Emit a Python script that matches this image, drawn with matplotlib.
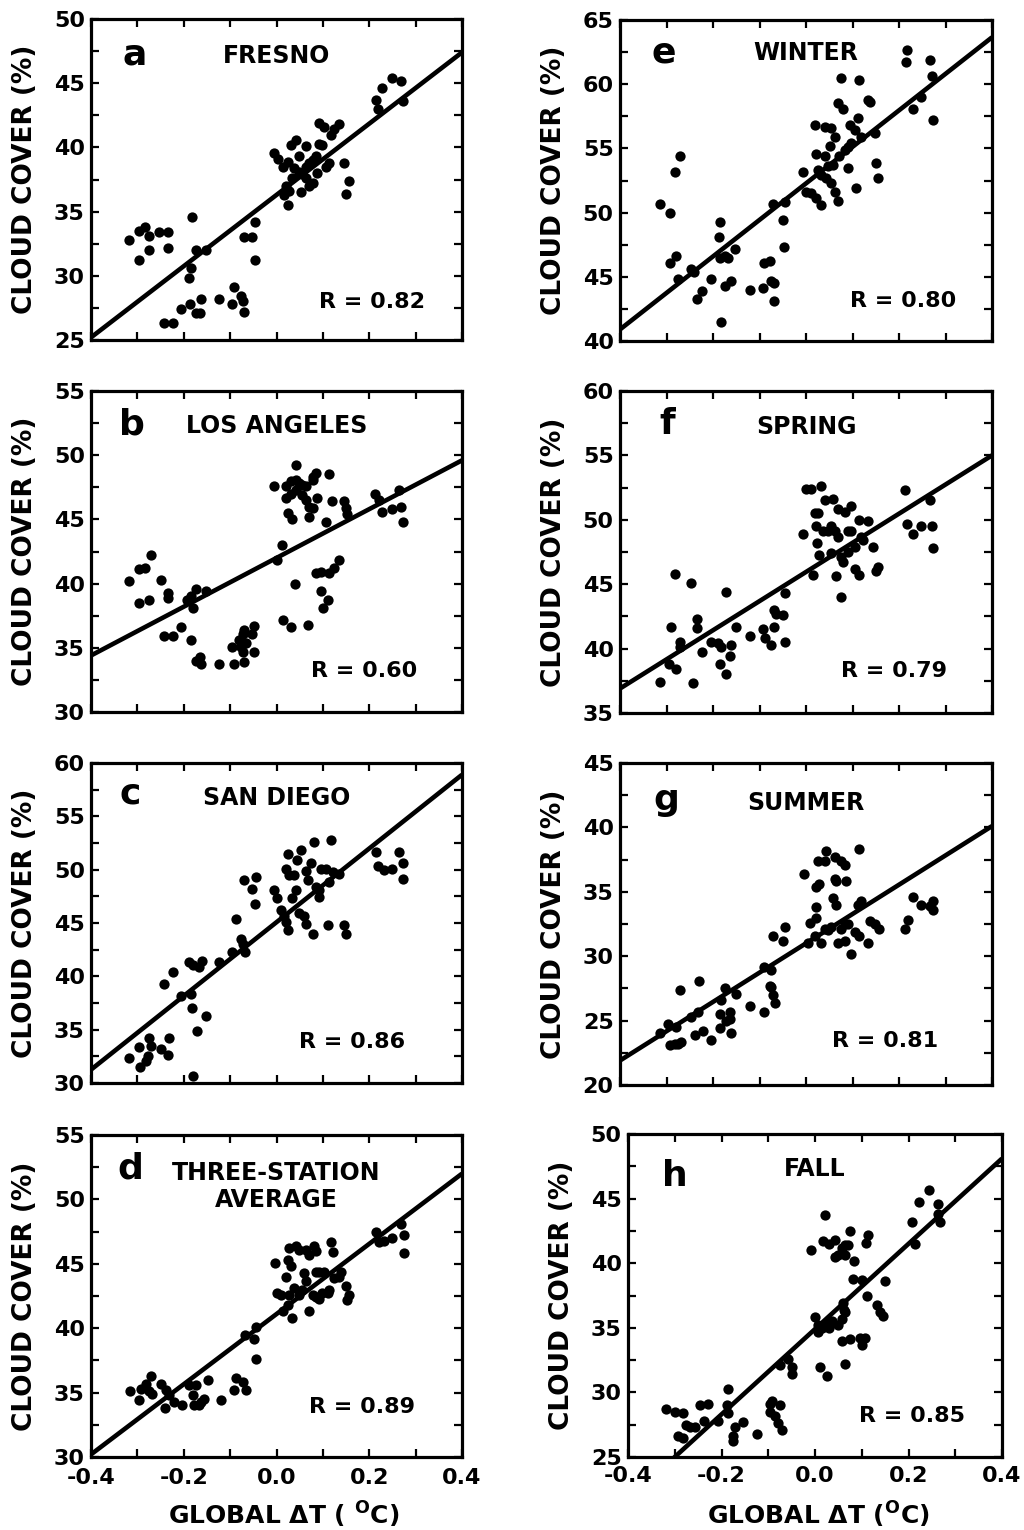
import matplotlib
matplotlib.use("Agg")
import matplotlib.pyplot as plt
from matplotlib.ticker import MultipleLocator, FormatStrFormatter

plt.rcParams['font.family'] = ['DejaVu Sans']
plt.rcParams['font.weight'] = 'bold'
plt.rcParams['mathtext.fontset'] = 'dejavusans'
plt.rcParams['axes.unicode_minus'] = False

# ---------------- data (global dT in deg C, cloud cover in %) ----------------
fresno_dt = [-0.318, -0.296, -0.283, -0.274, -0.253, -0.235, -0.297, -0.276, -0.235,
             -0.182, -0.174, -0.152,
             -0.185, -0.188, -0.206, -0.186, -0.163, -0.174, -0.165, -0.124, -0.091, -0.095, -0.077, -0.070, -0.073,
             -0.242, -0.224,
             -0.070, -0.052, -0.046, -0.047,
             -0.005, 0.004, 0.013, 0.020, 0.017, 0.024, 0.027, 0.034, 0.031, 0.042, 0.063,
             0.024, 0.038, 0.049, 0.056, 0.063, 0.070, 0.078, 0.085,
             0.052, 0.070, 0.078, 0.063,
             0.092, 0.103, 0.117, 0.124, 0.135,
             0.092, 0.099, 0.106, 0.114, 0.146, 0.157, 0.149,
             0.088, 0.049,
             0.214, 0.228, 0.218, 0.250, 0.268, 0.272]
fresno_cc = [32.8, 33.5, 33.8, 33.1, 33.4, 33.4, 31.2, 32.0, 32.2,
             34.6, 32.0, 32.0,
             30.6, 29.8, 27.4, 27.8, 28.2, 27.1, 27.1, 28.2, 29.1, 27.8, 28.4, 27.2, 28.0,
             26.3, 26.3,
             33.0, 33.0, 34.2, 31.2,
             39.6, 39.1, 38.5, 37.0, 36.3, 35.5, 36.6, 37.6, 40.2, 40.6, 40.1,
             38.9, 38.4, 38.1, 37.9, 38.5, 38.8, 39.0, 39.3,
             36.5, 37.0, 37.2, 37.6,
             41.9, 41.6, 41.0, 41.4, 41.8,
             40.3, 40.2, 38.5, 38.8, 38.8, 37.4, 36.4,
             38.0, 39.3,
             43.7, 44.6, 43.0, 45.4, 45.2, 43.6]

la_dt = [-0.318, -0.296, -0.283, -0.271, -0.249, -0.235, -0.235, -0.296, -0.274,
         -0.192, -0.181, -0.174, -0.152, -0.185,
         -0.242, -0.224, -0.206, -0.185,
         -0.174, -0.163, -0.165,
         -0.124, -0.091, -0.095, -0.080, -0.073, -0.070, -0.077, -0.073, -0.070, -0.048, -0.052, -0.048, -0.066,
         0.002, 0.011, 0.013, 0.031, 0.067, 0.040,
         0.085, 0.096, 0.114, 0.124, 0.135, 0.096, 0.110, 0.101,
         -0.005, 0.020, 0.031, 0.042, 0.042, 0.049, 0.056, 0.063, 0.056, 0.063, 0.070, 0.078, 0.085, 0.078,
         0.088, 0.020, 0.024, 0.034, 0.070, 0.078, 0.106, 0.114, 0.119, 0.146, 0.149, 0.153, 0.043, 0.031,
         0.213, 0.221, 0.227, 0.250, 0.268, 0.264, 0.273]
la_cc = [40.2, 41.1, 41.2, 42.2, 40.3, 39.3, 38.9, 38.5, 38.7,
         38.7, 38.1, 39.6, 39.4, 39.0,
         35.9, 35.9, 36.6, 35.6,
         34.0, 33.7, 34.3,
         33.7, 33.7, 35.1, 35.6, 36.1, 36.4, 35.1, 34.7, 33.9, 36.7, 36.1, 34.7, 35.4,
         41.8, 43.0, 37.2, 36.6, 36.8, 40.0,
         40.8, 40.9, 40.8, 41.2, 41.8, 39.4, 38.7, 38.1,
         47.6, 47.6, 47.0, 47.3, 49.2, 47.8, 47.7, 47.6, 46.9, 46.5, 46.0, 48.3, 48.6, 48.1,
         46.7, 46.7, 45.5, 45.0, 45.2, 45.9, 44.8, 48.5, 46.4, 46.4, 45.9, 45.4, 48.1, 48.0,
         47.0, 46.5, 45.6, 45.8, 46.0, 47.3, 44.8]

sd_dt = [-0.318, -0.296, -0.294, -0.282, -0.278, -0.274, -0.271, -0.249, -0.235, -0.231,
         -0.242, -0.223, -0.206, -0.185, -0.182, -0.172, -0.151, -0.181,
         -0.188, -0.181, -0.167, -0.161, -0.124, -0.095, -0.088, -0.077, -0.073, -0.068, -0.070, -0.052, -0.045, -0.046,
         -0.005, 0.002, 0.009, 0.017, 0.020, 0.024, 0.027, 0.020, 0.024, 0.038, 0.045, 0.052, 0.042, 0.034,
         0.049, 0.060, 0.063, 0.078, 0.063, 0.067, 0.074, 0.081, 0.085, 0.092, 0.096, 0.106, 0.117, 0.114,
         0.121, 0.135, 0.110, 0.146, 0.149, 0.092,
         0.214, 0.218, 0.232, 0.250, 0.264, 0.272, 0.273]
sd_cc = [32.3, 33.4, 31.5, 32.1, 32.5, 34.2, 33.5, 33.2, 32.6, 34.2,
         39.3, 40.4, 38.2, 38.3, 37.0, 34.9, 36.3, 30.7,
         41.3, 41.1, 40.9, 41.4, 41.3, 42.3, 45.4, 43.5, 43.0, 42.3, 49.0, 48.2, 49.3, 46.8,
         48.1, 47.3, 46.2, 45.7, 45.1, 44.3, 49.5, 50.1, 51.5, 49.5, 50.9, 51.8, 48.1, 47.3,
         45.9, 45.7, 44.9, 44.0, 49.9, 49.0, 50.6, 52.6, 48.4, 47.4, 50.1, 50.1, 52.8, 48.8,
         49.8, 49.6, 44.8, 44.8, 44.0, 48.1,
         51.7, 50.3, 50.0, 50.1, 51.7, 50.6, 49.1]

avg_dt = [-0.315, -0.296, -0.292, -0.282, -0.271, -0.274, -0.269, -0.249, -0.239, -0.240, -0.221, -0.203, -0.231,
          -0.188, -0.181, -0.177, -0.167, -0.163, -0.156, -0.174, -0.147, -0.120, -0.091, -0.088, -0.073, -0.066,
          -0.068, -0.048, -0.045, -0.045,
          -0.004, 0.002, 0.009, 0.013, 0.024, 0.033, 0.020, 0.024, 0.031, 0.027, 0.042, 0.049, 0.063, 0.070,
          0.081, 0.085, 0.060, 0.063, 0.056, 0.049, 0.038, 0.070, 0.078, 0.085, 0.092, 0.085, 0.092, 0.103,
          0.099, 0.110, 0.114, 0.117, 0.121, 0.124, 0.135, 0.139, 0.149, 0.157, 0.153, 0.027,
          0.214, 0.221, 0.232, 0.250, 0.268, 0.275, 0.275]
avg_cc = [35.1, 34.4, 35.3, 35.7, 36.3, 35.1, 34.9, 35.7, 35.2, 33.8, 34.3, 34.0, 34.8,
          35.6, 34.8, 34.0, 34.0, 34.3, 34.5, 35.6, 36.0, 34.4, 35.2, 36.1, 35.8, 35.2,
          39.5, 39.2, 40.1, 37.6,
          45.1, 42.7, 42.6, 41.3, 41.8, 40.8, 44.0, 45.3, 44.8, 46.2, 46.4, 46.1, 46.1, 45.7,
          46.4, 46.0, 44.3, 43.7, 43.0, 42.6, 43.1, 41.3, 42.6, 42.4, 42.3, 44.4, 44.4, 44.4,
          42.7, 42.7, 43.0, 46.7, 45.9, 43.9, 44.0, 44.4, 43.3, 42.6, 42.2, 42.6,
          47.5, 46.7, 46.8, 47.0, 48.1, 47.2, 45.8]

winter_dt = [-0.315, -0.293, -0.282, -0.270, -0.293, -0.280, -0.275, -0.248, -0.241, -0.234, -0.224, -0.205, -0.182,
             -0.184, -0.187, -0.186, -0.175, -0.168, -0.153, -0.175, -0.162, -0.121, -0.092, -0.090, -0.078, -0.075,
             -0.069, -0.069, -0.047, -0.049, -0.071, -0.046,
             -0.006, 0.001, 0.011, 0.022, 0.033, 0.022, 0.040, 0.019, 0.040, 0.054, 0.062, 0.051, 0.026, 0.033,
             0.044, 0.054, 0.062, 0.069, 0.047, 0.058, 0.072, 0.083, 0.090, 0.097, 0.090, 0.094, 0.105, 0.112,
             0.069, 0.080, 0.076, 0.115, 0.133, 0.137, 0.148, 0.151, 0.155, 0.108, 0.119,
             0.218, 0.216, 0.230, 0.248, 0.266, 0.271, 0.273]
winter_cc = [50.7, 50.0, 53.2, 54.4, 46.1, 46.6, 44.8, 45.6, 45.4, 43.3, 43.9, 44.8, 41.5,
             49.3, 48.1, 46.5, 46.6, 46.5, 47.2, 44.3, 44.7, 44.0, 44.1, 46.1, 46.2, 44.7,
             44.5, 43.1, 47.3, 49.4, 50.7, 50.8,
             53.2, 51.6, 51.5, 51.1, 50.6, 54.6, 54.4, 56.8, 56.7, 56.6, 55.9, 55.2, 53.3, 52.9,
             52.7, 52.3, 51.6, 50.9, 53.6, 53.7, 54.4, 54.9, 55.1, 55.4, 53.5, 56.8, 56.4, 57.4,
             58.5, 58.1, 60.5, 60.3, 58.8, 58.6, 56.2, 53.9, 52.7, 51.9, 55.9,
             62.7, 61.7, 58.1, 59.0, 61.9, 60.6, 57.2]

spring_dt = [-0.315, -0.295, -0.279, -0.291, -0.272, -0.270, -0.242, -0.234, -0.234, -0.224,
             -0.204, -0.189, -0.182, -0.184, -0.171, -0.164, -0.161, -0.171, -0.150, -0.121, -0.281, -0.248,
             -0.092, -0.089, -0.075, -0.069, -0.069, -0.064, -0.049, -0.046, -0.046,
             -0.006, 0.001, 0.011, 0.033, 0.040, 0.019, 0.026, 0.022, 0.024, 0.029, 0.015, 0.037, 0.047,
             0.054, 0.062, 0.058, 0.069, 0.083, 0.097, 0.090, 0.097, 0.115, 0.133, 0.123, 0.119, 0.105,
             0.090, 0.076, 0.080, 0.065, 0.075, 0.105, 0.115, 0.144, 0.155, 0.151, 0.054, 0.069,
             0.212, 0.218, 0.230, 0.248, 0.266, 0.271, 0.273]
spring_cc = [37.4, 38.8, 38.4, 41.7, 40.5, 40.1, 37.3, 42.3, 41.6, 39.7,
             40.5, 40.4, 40.1, 38.8, 38.0, 39.4, 40.3, 44.4, 41.7, 41.0, 45.8, 45.1,
             41.5, 40.8, 40.3, 41.7, 43.0, 42.7, 42.6, 44.3, 40.5,
             48.9, 52.4, 52.4, 52.6, 51.5, 50.5, 50.5, 49.5, 48.2, 47.3, 45.7, 49.1, 49.1,
             49.5, 49.1, 51.6, 50.8, 50.6, 51.1, 49.1, 49.1, 50.0, 49.9, 48.4, 48.7, 47.9,
             47.5, 47.1, 46.7, 45.6, 44.0, 46.2, 45.7, 47.9, 46.3, 46.0, 47.4, 48.7,
             52.3, 49.7, 48.9, 49.5, 51.5, 49.5, 47.8]

summer_dt = [-0.313, -0.297, -0.293, -0.282, -0.275, -0.279, -0.268, -0.272, -0.248, -0.239,
             -0.232, -0.231, -0.222, -0.204, -0.186, -0.184, -0.182, -0.175, -0.164, -0.162,
             -0.164, -0.150, -0.171, -0.121, -0.090,
             -0.090, -0.076, -0.078, -0.071, -0.067, -0.075,
             -0.071, -0.046, -0.049,
             -0.004, 0.008, 0.004, 0.019, 0.022, 0.022, 0.022, 0.029, 0.032, 0.040,
             0.047, 0.026, 0.044, 0.040, 0.062, 0.076, 0.083, 0.062, 0.065, 0.087,
             0.058, 0.065, 0.076, 0.069, 0.083, 0.090, 0.096, 0.105, 0.115, 0.119,
             0.112, 0.133, 0.137, 0.148, 0.158, 0.115, 0.083, 0.054,
             0.212, 0.219, 0.230, 0.248, 0.266, 0.273, 0.273]
summer_cc = [24.0, 24.7, 23.1, 23.2, 23.2, 24.5, 23.3, 27.4, 25.3, 23.9,
             25.7, 28.1, 24.2, 23.5, 25.5, 24.4, 26.6, 27.5, 25.7, 24.0,
             25.1, 27.1, 25.0, 26.1, 25.7,
             29.2, 28.9, 27.7, 27.0, 26.4, 27.6,
             31.6, 32.3, 31.2,
             36.4, 32.6, 31.0, 31.6, 33.8, 33.0, 35.4, 35.6, 31.0, 32.1,
             32.0, 37.4, 38.2, 37.4, 37.7, 37.4, 37.1, 36.0, 35.8, 35.8,
             34.5, 34.0, 32.1, 31.0, 31.2, 32.5, 30.2, 31.9, 31.6, 34.3,
             34.0, 31.0, 32.7, 32.5, 32.1, 38.3, 32.5, 32.3,
             32.1, 32.8, 34.6, 34.0, 33.9, 34.3, 33.6]

fall_dt = [-0.318, -0.300, -0.282, -0.275, -0.268, -0.293, -0.282, -0.246, -0.229, -0.237,
           -0.257, -0.207, -0.186, -0.189, -0.186, -0.171, -0.154, -0.175, -0.175, -0.125,
           -0.096, -0.096, -0.075, -0.086, -0.079, -0.071, -0.093,
           -0.075, -0.057, -0.050, -0.050, 0.011, 0.025, 0.064,
           -0.009, -0.001, 0.006, 0.007, 0.014, 0.029, 0.025, 0.036, 0.050, 0.057,
           0.061, 0.059, 0.064, 0.021, 0.018, 0.029, 0.043, 0.043, 0.050, 0.057,
           0.064, 0.071, 0.075, 0.084, 0.082, 0.100, 0.111, 0.114, 0.109, 0.132,
           0.139, 0.146, 0.150, 0.057, 0.075, 0.100, 0.096, 0.107, 0.064,
           0.207, 0.213, 0.223, 0.243, 0.263, 0.264, 0.268]
fall_cc = [28.7, 28.5, 28.4, 27.5, 27.3, 26.6, 26.5, 29.0, 29.1, 27.8,
           27.3, 27.8, 30.3, 29.0, 28.4, 27.3, 27.7, 26.6, 26.2, 26.8,
           29.1, 28.5, 29.0, 28.2, 27.6, 27.1, 29.3,
           32.1, 32.6, 32.0, 31.4, 32.0, 31.3, 32.2,
           41.0, 35.8, 35.2, 34.7, 35.0, 35.0, 35.3, 35.5, 35.2, 35.7,
           36.4, 36.9, 36.2, 43.7, 41.7, 41.5, 41.8, 40.5, 40.6, 41.2,
           41.4, 41.4, 42.5, 40.2, 38.8, 38.7, 37.5, 42.2, 41.6, 36.8,
           36.2, 35.9, 38.6, 34.0, 34.1, 33.7, 34.2, 34.2, 40.6,
           43.2, 41.5, 44.7, 45.7, 44.6, 43.8, 43.2]

# regression lines: cloud cover at dT = -0.4 and dT = +0.4
fit_dt = [-0.4, 0.4]
fit_fresno = [25.2, 47.4]
fit_la = [34.4, 49.6]
fit_sd = [31.25, 58.9]
fit_avg = [30.2, 52.0]
fit_winter = [40.9, 63.65]
fit_spring = [36.9, 55.0]
fit_summer = [21.9, 40.1]
fit_fall = [21.7, 48.1]

letters = ['a', 'b', 'c', 'd', 'e', 'f', 'g', 'h']
titles = ['FRESNO', 'LOS ANGELES', 'SAN DIEGO', 'THREE-STATION\nAVERAGE',
          'WINTER', 'SPRING', 'SUMMER', 'FALL']
r_labels = ['R = 0.82', 'R = 0.60', 'R = 0.86', 'R = 0.89',
            'R = 0.80', 'R = 0.79', 'R = 0.81', 'R = 0.85']
y_ranges = [(25, 50), (30, 55), (30, 60), (30, 55),
            (40, 65), (35, 60), (20, 45), (25, 50)]
x_ticks = [-0.4, -0.2, 0.0, 0.2, 0.4]

xs = [fresno_dt, la_dt, sd_dt, avg_dt, winter_dt, spring_dt, summer_dt, fall_dt]
ys = [fresno_cc, la_cc, sd_cc, avg_cc, winter_cc, spring_cc, summer_cc, fall_cc]
fits = [fit_fresno, fit_la, fit_sd, fit_avg, fit_winter, fit_spring, fit_summer, fit_fall]

# ---------------- layout (pixel boxes: left, top, right, bottom) ----------------
W, H = 1024, 1530
boxes = [(91, 19, 462, 340), (91, 391, 462, 712), (91, 763, 462, 1083), (91, 1135, 462, 1457),
         (620, 20, 992, 341), (620, 391, 992, 713), (620, 763, 992, 1085), (628, 1134, 1002, 1457)]
letter_pos = [(0.085, 0.857), (0.075, 0.863), (0.078, 0.875), (0.070, 0.866),
              (0.085, 0.869), (0.105, 0.865), (0.090, 0.855), (0.090, 0.840)]
title_y = [0.863, 0.869, 0.870, 0.860, 0.875, 0.865, 0.855, 0.870]
r_pos = [(0.90, 0.100), (0.879, 0.110), (0.846, 0.109), (0.873, 0.137),
         (0.905, 0.107), (0.878, 0.112), (0.855, 0.119), (0.900, 0.109)]

fig = plt.figure(figsize=(W / 100, H / 100), dpi=100)

for i in range(8):
    assert len(xs[i]) == len(ys[i])
    l, t, r, b = boxes[i]
    ax = fig.add_axes([l / W, 1 - b / H, (r - l) / W, (b - t) / H])
    ax.plot(xs[i], ys[i], 'o', color='black', ms=7.4, mew=0)
    ax.plot(fit_dt, fits[i], '-', color='black', lw=3.3, solid_capstyle='butt')
    ax.set_xlim(-0.4, 0.4)
    ax.set_ylim(*y_ranges[i])
    ax.set_xticks(x_ticks)
    ax.xaxis.set_minor_locator(MultipleLocator(0.1))
    ax.yaxis.set_major_locator(MultipleLocator(5))
    ax.yaxis.set_minor_locator(MultipleLocator(2.5))
    ax.xaxis.set_major_formatter(FormatStrFormatter('%.1f'))
    ax.tick_params(which='both', direction='in', top=True, right=True,
                   length=5.5, width=1.6, color='black')
    ax.tick_params(axis='y', labelsize=16, pad=4.5)
    for s in ax.spines.values():
        s.set_linewidth(2.3)
    bottom_row = i in (3, 7)
    if bottom_row:
        ax.tick_params(axis='x', labelsize=16, pad=(8 if i == 3 else 6.5))
        if i == 3:
            ax.set_xlabel('GLOBAL \u0394T ( $^{\\mathbf{O}}$C)', fontsize=18, fontweight='bold')
            ax.xaxis.set_label_coords(0.52, -0.134)
        else:
            ax.set_xlabel('GLOBAL \u0394T ($^{\\mathbf{O}}$C)', fontsize=18, fontweight='bold')
            ax.xaxis.set_label_coords(0.51, -0.134)
    else:
        ax.tick_params(axis='x', labelbottom=False)
    for lab in ax.get_xticklabels() + ax.get_yticklabels():
        lab.set_fontweight('bold')
    ax.set_ylabel('CLOUD COVER (%)', fontsize=19, fontweight='bold')
    ax.yaxis.set_label_coords(-53.0 / (r - l), 0.5)

    lx, ly = letter_pos[i]
    ax.text(lx, ly, letters[i], transform=ax.transAxes, fontsize=26,
            fontweight='bold', ha='left', va='baseline')
    tlines = titles[i].split('\n')
    for k, tl in enumerate(tlines):
        ax.text(0.5, title_y[i] - k * 0.083, tl, transform=ax.transAxes, fontsize=17,
                fontweight='bold', ha='center', va='baseline')
    rx, ry = r_pos[i]
    ax.text(rx, ry, r_labels[i], transform=ax.transAxes, fontsize=16,
            fontweight='bold', ha='right', va='baseline')

fig.savefig('out.png', dpi=100, facecolor='white')
